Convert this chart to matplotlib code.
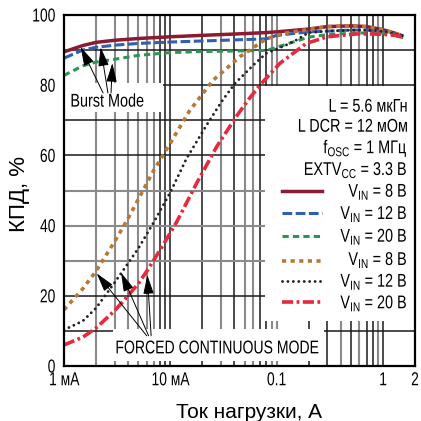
import numpy as np
import matplotlib
matplotlib.use("Agg")
import matplotlib.pyplot as plt
from matplotlib.patches import Rectangle
from matplotlib.patheffects import AbstractPathEffect
from matplotlib.transforms import Affine2D

FONT = ["Liberation Sans", "DejaVu Sans"]
plt.rcParams.update({"font.family": FONT, "font.size": 13,
                     "mathtext.fontset": "custom", "lines.scale_dashes": False})


class Condense(AbstractPathEffect):
    """Squeeze glyphs horizontally (narrow type) about the left, centre or right edge."""

    def __init__(self, sx=0.78, anchor="center"):
        super().__init__()
        self.sx, self.anchor = sx, anchor

    def draw_path(self, renderer, gc, tpath, affine, rgbFace=None):
        ext = tpath.get_extents()
        cx = {"left": ext.x0, "right": ext.x1}.get(self.anchor, 0.5*(ext.x0 + ext.x1))
        t = Affine2D().translate(-cx, 0).scale(self.sx, 1).translate(cx, 0) + affine
        renderer.draw_path(gc, tpath, t, rgbFace)


# --- efficiency curves, load current in A, efficiency in % ---
i_burst = [0.001, 0.0015, 0.002, 0.003, 0.005, 0.01, 0.02, 0.05, 0.08, 0.1,
           0.2, 0.3, 0.5, 0.7, 1.0, 1.3, 1.55]
eff_8v_burst = [89.5, 91.3, 92.2, 92.8, 93.3, 93.8, 94.2, 94.7, 95.0, 95.2,
                96.0, 96.7, 96.9, 96.7, 95.8, 94.8, 94.0]
eff_12v_burst = [87.7, 90.0, 90.8, 91.4, 91.9, 92.3, 92.6, 93.0, 93.2, 94.2,
                 95.2, 95.4, 95.7, 95.7, 95.3, 94.6, 94.0]
eff_20v_burst = [82.8, 85.5, 86.6, 87.4, 88.5, 89.3, 89.6, 89.8, 89.9, 90.8,
                 93.7, 94.4, 94.8, 94.9, 94.8, 94.2, 93.5]

i_fcm_8v = [0.001, 0.0015, 0.002, 0.003, 0.004, 0.005, 0.007, 0.01, 0.015,
            0.025, 0.045, 0.08, 0.12, 0.2, 0.3, 0.5, 0.7, 1.0, 1.3, 1.55]
eff_8v_fcm = [16.0, 22.0, 27.0, 35.5, 42.0, 47.5, 55.8, 63.5, 72.5,
              81.3, 88.1, 93.2, 94.8, 95.9, 96.7, 96.9, 96.7, 95.8, 94.8, 94.0]
i_fcm_12v = [0.001, 0.0015, 0.002, 0.003, 0.005, 0.007, 0.01, 0.0142, 0.022,
             0.0303, 0.0405, 0.0607, 0.08, 0.124, 0.154, 0.2, 0.3, 0.5, 0.7,
             1.0, 1.3, 1.55]
eff_12v_fcm = [10.3, 12.8, 16.5, 23.8, 33.5, 41.0, 49.5, 59.1, 68.7,
               75.3, 80.5, 85.8, 89.1, 91.5, 92.9, 95.0, 95.4, 95.7, 95.7,
               95.3, 94.6, 94.0]
i_fcm_20v = [0.001, 0.0015, 0.002, 0.003, 0.004, 0.005, 0.006, 0.008, 0.0115,
             0.0177, 0.0273, 0.042, 0.054, 0.07, 0.107, 0.149, 0.19, 0.3,
             0.56, 0.76, 1.0, 1.3, 1.55]
eff_20v_fcm = [6.0, 8.2, 10.8, 15.8, 20.0, 23.5, 27.0, 33.0, 41.1,
               52.1, 62.5, 71.2, 75.8, 80.1, 86.2, 89.5, 91.9, 93.8,
               94.6, 94.6, 94.5, 94.2, 93.6]

x_ticks = [0.001, 0.01, 0.1, 1, 2]
x_ticklabels = ["1 мА", "10 мА", "0.1", "1", "2"]
y_ticks = [0, 20, 40, 60, 80, 100]

legend_header = ["L = 5.6 мкГн", "L DCR = 12 мОм",
                 r"f$_{\mathregular{OSC}}$ = 1 МГц",
                 r"EXTV$_{\mathregular{CC}}$ = 3.3 В"]
legend_vin = [r"V$_{\mathregular{IN}}$ = 8 В", r"V$_{\mathregular{IN}}$ = 12 В",
              r"V$_{\mathregular{IN}}$ = 20 В", r"V$_{\mathregular{IN}}$ = 8 В",
              r"V$_{\mathregular{IN}}$ = 12 В", r"V$_{\mathregular{IN}}$ = 20 В"]

styles = [
    dict(color="#8c1a30", lw=2.5, ls="-"),
    dict(color="#2f5fb0", lw=2.2, dashes=(7, 2.5)),
    dict(color="#2e9455", lw=2.2, dashes=(4.5, 3)),
    dict(color="#b87838", lw=2.6, dashes=(3, 3.2)),
    dict(color="#222222", lw=2.1, dashes=(0.01, 3.9), dash_capstyle="round"),
    dict(color="#e8283c", lw=2.6, dashes=(8, 2.5, 2, 2.5)),
]
series = [(i_burst, eff_8v_burst), (i_burst, eff_12v_burst),
          (i_burst, eff_20v_burst), (i_fcm_8v, eff_8v_fcm),
          (i_fcm_12v, eff_12v_fcm), (i_fcm_20v, eff_20v_fcm)]

fig = plt.figure(figsize=(4.21, 4.21), dpi=100)
ax = fig.add_axes([64/421, 55/421, 351/421, 351/421])
ax.set_xscale("log")
ax.set_xlim(0.001, 2)
ax.set_ylim(0, 100)

# grid: printed in a mix of black and grey strokes
dark, grey = "#1a1a1a", "#8a8a8a"
for dec, pat in [(1e-3, {2: grey, 3: grey, 4: grey, 5: grey, 6: grey, 7: grey, 8: dark, 9: dark}),
                 (1e-2, {1: dark, 2: dark, 3: grey, 4: dark, 5: grey, 6: grey, 7: dark, 8: dark, 9: grey}),
                 (1e-1, {1: grey, 2: dark, 3: dark, 4: grey, 5: dark, 6: grey, 7: dark, 8: dark, 9: grey}),
                 (1.0, {1: dark})]:
    for k, c in pat.items():
        ax.axvline(k*dec, color=c, lw=1.1 if c == dark else 1.5, zorder=1)
hcol = {10: dark, 20: dark, 30: grey, 40: grey, 50: grey, 60: dark, 70: dark, 80: dark, 90: dark}
for yv, c in hcol.items():
    ax.axhline(yv, color=c, lw=1.1 if c == dark else 1.5, zorder=1)

# white panels behind the annotations
for (x0, x1, y0, y1) in [(0.001, 0.00853, 72.4, 80.5),
                         (0.078, 2.0, 12.8, 79.7),
                         (0.0029, 0.28, 1.3, 10.4)]:
    ax.add_patch(Rectangle((x0, y0), x1 - x0, y1 - y0, facecolor="white",
                           edgecolor="none", zorder=1.5))

for (xs, ys), st in zip(series, styles):
    ax.plot(xs, ys, zorder=3, solid_capstyle="butt", **st)

narrow_r = [Condense(0.78, "right")]

# legend block
for txt, base in zip(legend_header, [111.7, 131.7, 153.3, 175.0]):
    ax.text(0.98, (366 - base)/351, txt, transform=ax.transAxes, ha="right",
            va="baseline", fontsize=13.3, zorder=4, path_effects=narrow_r)
for st, txt, sy, base in zip(styles, legend_vin,
                             [190.7, 213, 235.7, 260.7, 280.7, 302.3],
                             [196.7, 219, 241.7, 265, 286.7, 308.3]):
    yy = (366 - sy)/351
    ax.plot([0.621, 0.735], [yy, yy], transform=ax.transAxes, zorder=4, **st)
    ax.text(0.98, (366 - base)/351, txt, transform=ax.transAxes, ha="right",
            va="baseline", fontsize=13.3, zorder=4, path_effects=narrow_r)

# mode annotations
ax.text(0.00114, 73.9, "Burst Mode", ha="left", va="baseline", fontsize=13.3,
        zorder=4, path_effects=[Condense(0.78, "left")])
ax.text(0.00302, 3.6, "FORCED CONTINUOUS MODE", ha="left", va="baseline",
        fontsize=13.3, zorder=4, path_effects=[Condense(0.76, "left")])
arrow = dict(arrowstyle="-|>,head_length=0.9,head_width=0.25", color="black",
             lw=0.7, shrinkA=0, shrinkB=0)
for tip, tail in [((0.001436, 90.9), (0.00233, 77.8)),
                  ((0.00221, 90.8), (0.00259, 77.8)),
                  ((0.00285, 86.3), (0.00277, 77.8)),
                  ((0.00203, 26.4), (0.00600, 8.6)),
                  ((0.00344, 26.6), (0.00625, 8.6)),
                  ((0.00608, 25.9), (0.00660, 8.6))]:
    ax.annotate("", xy=tip, xytext=tail, arrowprops=arrow, zorder=5)

ax.set_xticks(x_ticks)
ax.set_xticklabels(x_ticklabels)
ax.xaxis.set_minor_locator(matplotlib.ticker.NullLocator())
ax.set_yticks(y_ticks)
ax.tick_params(length=0, labelsize=13.5)
ax.tick_params(axis="y", pad=6)
ax.tick_params(axis="x", pad=4.5)
for lbl in ax.get_xticklabels():
    lbl.set_path_effects([Condense(0.74, "center")])
for lbl in ax.get_yticklabels():
    lbl.set_path_effects([Condense(0.74, "right")])
for s in ax.spines.values():
    s.set_linewidth(1.6)
    s.set_zorder(6)

fig.text(20/421, 1 - 194/421, "КПД, %", rotation=90, ha="center", va="center",
         fontsize=16)
fig.text(249/421, 1 - 418/421, "Ток нагрузки, А", ha="center", va="baseline",
         fontsize=15)

fig.savefig("out.png", dpi=100)
